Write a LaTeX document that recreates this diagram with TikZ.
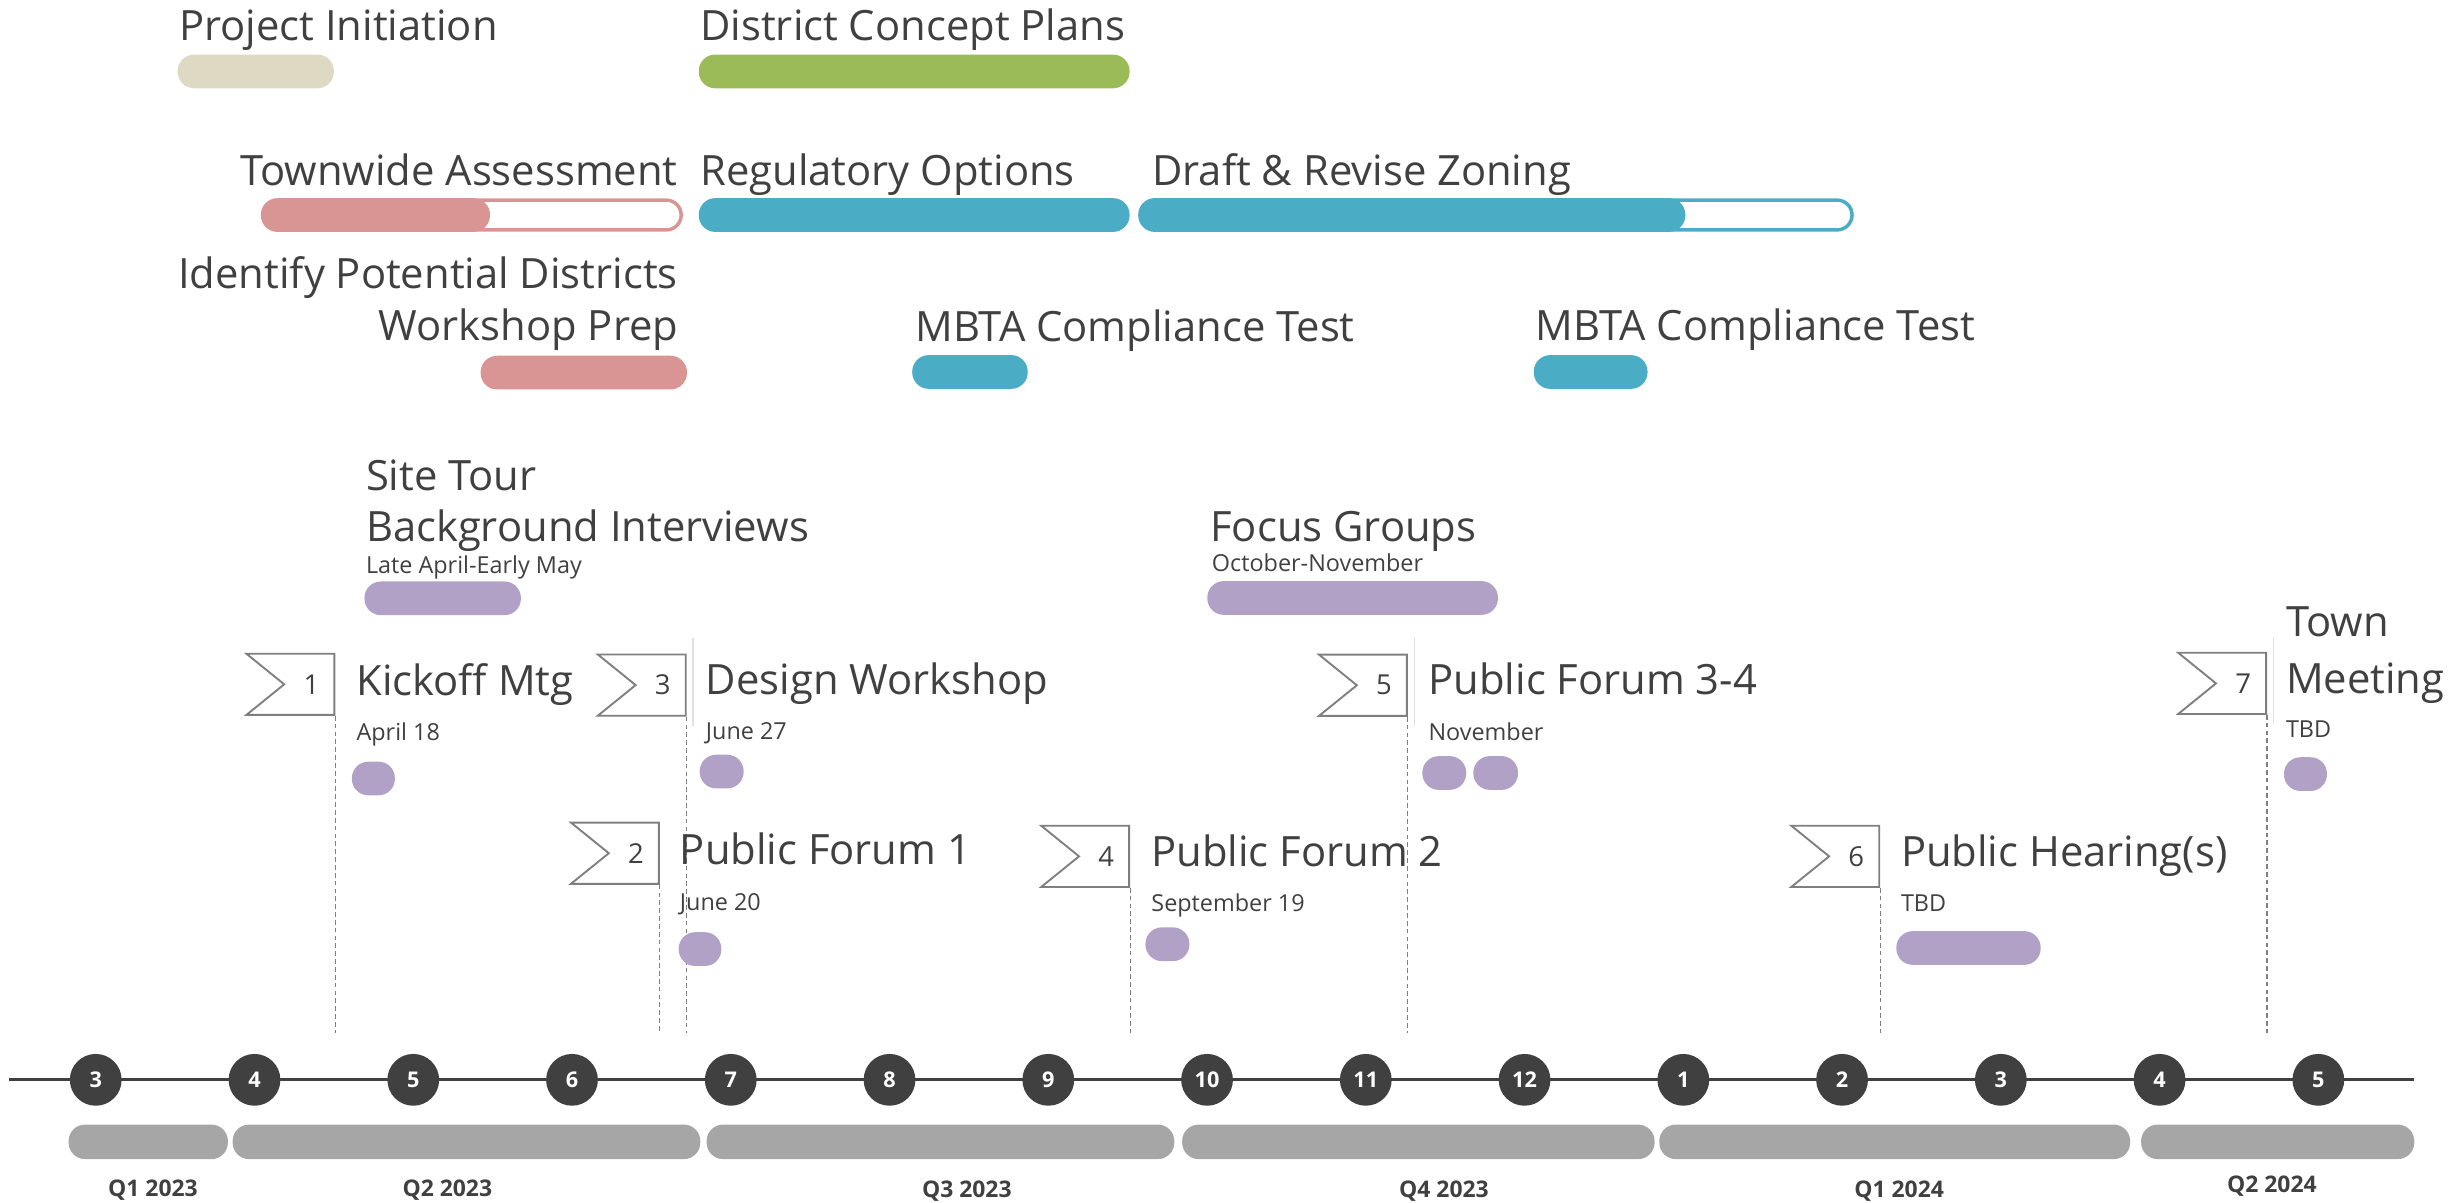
\documentclass[tikz,border=0pt]{standalone}
\usepackage{fontspec}
\setmainfont{Open Sans}
\usetikzlibrary{positioning,shapes.symbols}

\definecolor{ink}{HTML}{404040}
\definecolor{sand}{HTML}{DDD9C3}
\definecolor{leaf}{HTML}{9BBB59}
\definecolor{rose}{HTML}{D99594}
\definecolor{sea}{HTML}{4BACC6}
\definecolor{lilac}{HTML}{B2A1C7}
\definecolor{slate}{HTML}{A6A6A6}
\definecolor{flagline}{HTML}{7F7F7F}

\newcommand{\titlefont}{\fontsize{26.6}{31}\selectfont}
\newcommand{\notefont}{\fontsize{14.9}{17}\selectfont}
\newcommand{\numfont}{\fontsize{17.5}{20}\selectfont}
\newcommand{\monthfont}{\fontsize{13.8}{16}\selectfont\bfseries}
\newcommand{\qfont}{\fontsize{14.6}{17}\selectfont\bfseries}

\begin{document}
\begin{tikzpicture}
  [x=1pt,y=-1pt,every node/.style={text=ink,inner sep=0pt},
   lbl/.style={anchor=base west,font=\titlefont},
   lblr/.style={anchor=base east,font=\titlefont},
   note/.style={anchor=base west,font=\notefont},
   pill/.style={anchor=west,rounded corners=10.5pt,minimum height=21.5pt},
   open/.style={anchor=west,draw=#1,fill=white,line width=2.2pt,rounded corners=9.5pt,minimum height=19pt},
   flag/.style={signal,signal from=west,signal to=nowhere,signal pointer angle=78,anchor=east,
     draw=flagline,line width=1.2pt,fill=white,minimum width=56pt,minimum height=39pt},
   num/.style={font=\numfont},
   month/.style={circle,fill=ink,minimum size=33pt,text=white,font=\monthfont},
   quarter/.style={pill,fill=slate,minimum height=22pt},
   guide/.style={draw=flagline,dash pattern=on 3pt off 2pt,line width=0.7pt},
   faint/.style={draw=black!12,line width=0.8pt}]

  \useasboundingbox (0,0) rectangle (1568,766);

  % task bars
  \node[lbl] (piTxt) at (114,25.5) {Project Initiation};
  \node[pill,fill=sand,minimum width=99.5pt] (piBar) at (113,45.5) {};
  \node[lbl] (dcTxt) at (446,25.5) {District Concept Plans};
  \node[pill,fill=leaf,minimum width=274.5pt] (dcBar) at (445,45.5) {};

  \node[lblr] (taTxt) at (432,118) {Townwide Assessment};
  \node[open=rose,minimum width=265.8pt] (taBox) at (167.1,137) {};
  \node[pill,fill=rose,minimum width=146pt] (taBar) at (166,137) {};
  \node[lbl] (roTxt) at (446,118) {Regulatory Options};
  \node[pill,fill=sea,minimum width=274.5pt] (roBar) at (445,137) {};
  \node[lbl] (drTxt) at (734,118) {Draft \& Revise Zoning};
  \node[open=sea,minimum width=452.8pt] (drBox) at (726.1,137) {};
  \node[pill,fill=sea,minimum width=348.6pt] (drBar) at (725,137) {};

  \node[lblr] (ipTxt) at (432,184) {Identify Potential Districts};
  \node[lblr] (wpTxt) at (432.4,217) {Workshop Prep};
  \node[pill,fill=rose,minimum width=131.5pt] (wpBar) at (306,237.4) {};
  \node[lbl] (mbaTxt) at (583,217.5) {MBTA Compliance Test};
  \node[pill,fill=sea,minimum width=73.6pt] (mbaBar) at (581,237) {};
  \node[lbl] (mbbTxt) at (978.4,217) {MBTA Compliance Test};
  \node[pill,fill=sea,minimum width=72.5pt] (mbbBar) at (977,237) {};

  \node[lbl] (stTxt) at (233,312.2) {Site Tour};
  \node[lbl] (biTxt) at (233,345.1) {Background Interviews};
  \node[note] (biDate) at (233,365.3) {Late April-Early May};
  \node[pill,fill=lilac,minimum width=99.7pt] (biBar) at (232,381.2) {};
  \node[lbl] (fgTxt) at (771,345.1) {Focus Groups};
  \node[note] (fgDate) at (772,364.2) {October-November};
  \node[pill,fill=lilac,minimum width=185.2pt] (fgBar) at (769,381) {};

  % milestones, placed by the right edge of each flag
  \coordinate (stop) at (0,658);
  \coordinate (top) at (0,406.5);
  \foreach \i/\x/\y in {1/213.6/436,2/420.4/543.6,3/437.5/436.5,4/720/545.6,5/897/436.6,6/1197.9/545.6,7/1444.4/435.4}
  {
    \node[flag] (f\i) at (\x,\y) {};
    \node[num,left=10pt of f\i.east] (n\i) {\i};
    \draw[guide] (f\i.south -| f\i.east) -- (f\i.east |- stop);
  }
  \foreach \i in {3,5,7}
    \draw[faint] ([xshift=4pt]f\i.east |- top) -- ([xshift=4pt,yshift=-6pt]f\i.south -| f\i.east);

  \node[lbl] (t1) at (227,443) {Kickoff Mtg};
  \node[note] (d1) at (227,471.5) {April 18};
  \node[pill,fill=lilac,minimum width=27.4pt] (p1) at (224,496) {};

  \node[lbl] (t2) at (433,551) {Public Forum 1};
  \node[note] (d2) at (433,580) {June 20};
  \node[pill,fill=lilac,minimum width=27.2pt] (p2) at (432.2,604.7) {};

  \node[lbl] (t3) at (449.6,442.2) {Design Workshop};
  \node[note] (d3) at (449.6,471) {June 27};
  \node[pill,fill=lilac,minimum width=28pt] (p3) at (445.6,491.6) {};

  \node[lbl] (t4) at (733.4,551.8) {Public Forum 2};
  \node[note] (d4) at (733.4,581) {September 19};
  \node[pill,fill=lilac,minimum width=28pt] (p4) at (729.6,601.6) {};

  \node[lbl] (t5) at (910,442.8) {Public Forum 3-4};
  \node[note] (d5) at (910,472) {November};
  \node[pill,fill=lilac,minimum width=28pt] (p5a) at (906,492.5) {};
  \node[pill,fill=lilac,minimum width=28.5pt] (p5b) at (938.5,492.5) {};

  \node[lbl] (t6) at (1211,551.8) {Public Hearing(s)};
  \node[note] (d6) at (1211,581) {TBD};
  \node[pill,fill=lilac,minimum width=92pt] (p6) at (1208,604) {};

  \node[lbl] (t7a) at (1456.3,405.7) {Town};
  \node[lbl] (t7b) at (1456.3,441.7) {Meeting};
  \node[note] (d7) at (1456.3,470) {TBD};
  \node[pill,fill=lilac,minimum width=27.4pt] (p7) at (1455,493.2) {};

  % months and quarters
  \coordinate (axl) at (6,688);
  \coordinate (axr) at (1538,688);
  \draw[ink,line width=1.8pt] (axl) -- (axr);
  \foreach \m [count=\i from 0] in {3,4,5,6,7,8,9,10,11,12,1,2,3,4,5}
    \node[month] (m\i) at (61+101.15*\i,688) {\m};

  \foreach \a/\b/\lx/\ly/\q [count=\i] in {43.5/145/97.5/758/Q1 2023,148/446/285/758/Q2 2023,
      450/748/616/759/Q3 2023,753/1054/920/759/Q4 2023,1057/1357/1210/759/Q1 2024,1364/1538/1447.5/756/Q2 2024}
  {
    \pgfmathsetmacro\w{\b-\a}
    \node[quarter,minimum width=\w pt] (q\i) at (\a,727.5) {};
    \node[font=\qfont] (ql\i) at (\lx,\ly) {\q};
  }
\end{tikzpicture}
\end{document}
